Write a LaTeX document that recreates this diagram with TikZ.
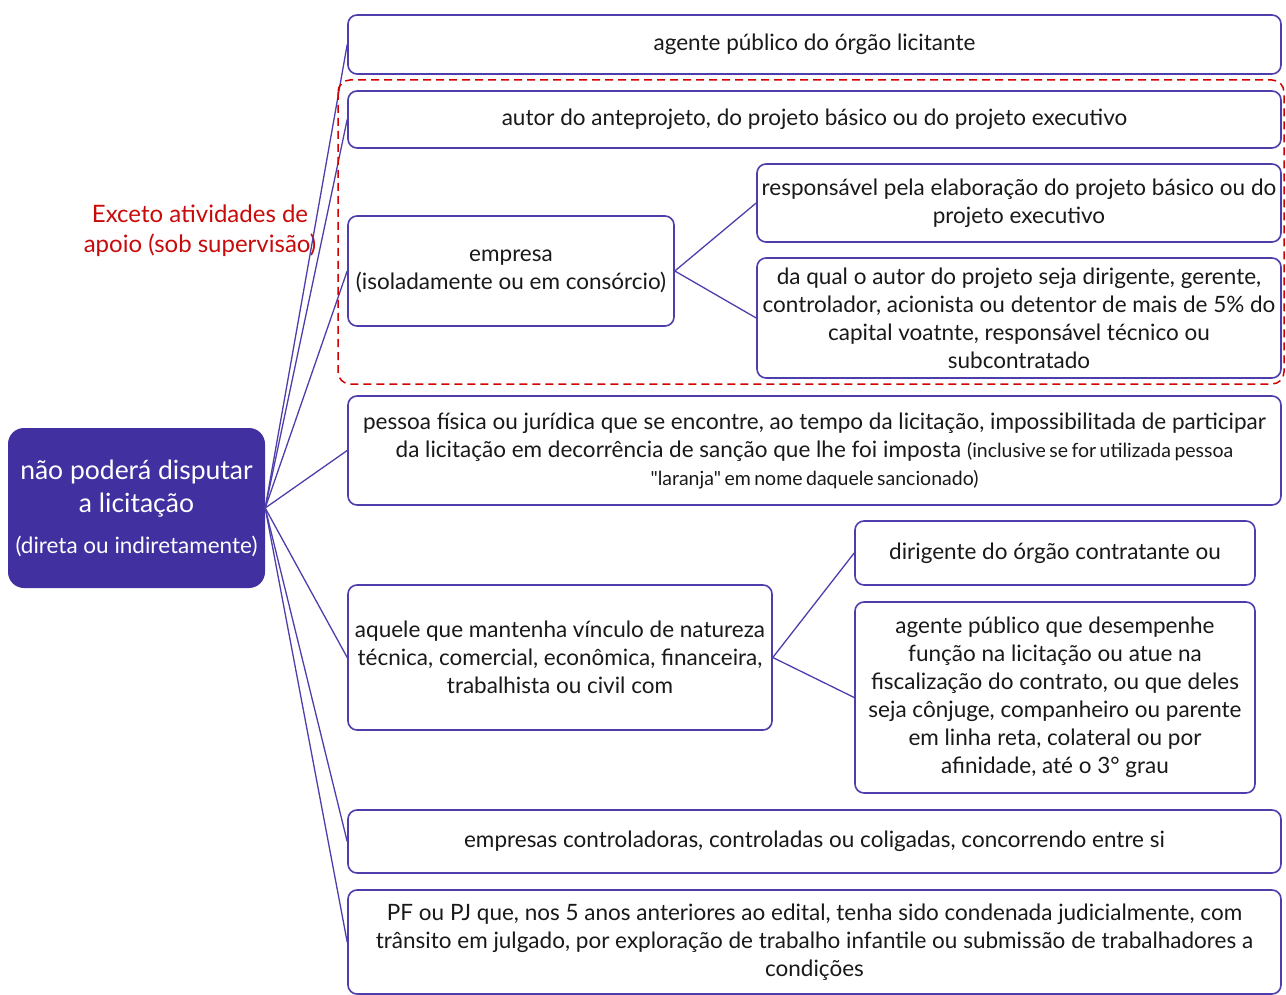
\documentclass[tikz,border=0pt]{standalone}
\usepackage{fontspec}
\setmainfont{Lato}
\newfontfamily\smallfam[WordSpace=0.7]{Lato}
\definecolor{boxcol}{RGB}{78,62,172}
\definecolor{rootcol}{RGB}{64,48,160}
\definecolor{redtxt}{RGB}{200,10,10}
\definecolor{reddash}{RGB}{210,0,0}
\definecolor{txtcol}{RGB}{25,25,25}
\begin{document}
\begin{tikzpicture}[x=1pt,y=-1pt,
  box/.style={draw=boxcol, line width=1.6pt, rounded corners=9pt, fill=white, align=center, inner sep=1pt, text=txtcol, font=\fontsize{22.5}{28}\selectfont},
  link/.style={draw=boxcol, line width=1.3pt},
  rootbox/.style={fill=rootcol, rounded corners=16pt, text=white, align=center, inner sep=0pt, font=\fontsize{26.5}{33}\selectfont},
  dashbox/.style={draw=reddash, line width=1.5pt, dash pattern=on 8pt off 5pt, rounded corners=12pt},
  note/.style={text=redtxt, align=center, font=\fontsize{24}{30}\selectfont}
]
\useasboundingbox (0,0) rectangle (1286,995);

% nodes
\node[rootbox, minimum width=257, minimum height=160] (r) at (136.5,508)
  {não poderá disputar\\a licitação\\[8pt]{\fontsize{22.5}{28}\selectfont (direta ou indiretamente)}};

\node[box, minimum width=933, minimum height=59] (a1) at (814.5,44.5) {agente público do órgão licitante};
\node[box, minimum width=933, minimum height=57] (a2) at (814.5,119.5) {autor do anteprojeto, do projeto básico ou do projeto executivo};
\node[box, minimum width=326, minimum height=110] (emp) at (511,271) {empresa\\(isoladamente ou em consórcio)};
\node[box, minimum width=524, minimum height=78] (resp) at (1019,203) {responsável pela elaboração do projeto básico ou do\\projeto executivo};
\node[box, minimum width=524, minimum height=120] (daq) at (1019,318) {da qual o autor do projeto seja dirigente, gerente,\\controlador, acionista ou detentor de mais de 5\% do\\capital voatnte, responsável técnico ou\\subcontratado};
\node[box, minimum width=933, minimum height=109] (pes) at (814.5,450.5)
  {pessoa física ou jurídica que se encontre, ao tempo da licitação, impossibilitada de participar\\da licitação em decorrência de sanção que lhe foi imposta {\smallfam\fontsize{19.5}{27}\selectfont (inclusive se for utilizada pessoa}\\\smallfam\fontsize{19.5}{27}\selectfont "laranja" em nome daquele sancionado)};
\node[box, minimum width=424, minimum height=145] (aq) at (560,657.5) {aquele que mantenha vínculo de natureza\\técnica, comercial, econômica, financeira,\\trabalhista ou civil com};
\node[box, minimum width=400, minimum height=64] (dir) at (1055,553) {dirigente do órgão contratante ou};
\node[box, minimum width=400, minimum height=191] (ag) at (1055,697.5) {agente público que desempenhe\\função na licitação ou atue na\\fiscalização do contrato, ou que deles\\seja cônjuge, companheiro ou parente\\em linha reta, colateral ou por\\afinidade, até o 3° grau};
\node[box, minimum width=933, minimum height=63] (ec) at (814.5,841.5) {empresas controladoras, controladas ou coligadas, concorrendo entre si};
\node[box, minimum width=933, minimum height=104] (pf) at (814.5,942) {PF ou PJ que, nos 5 anos anteriores ao edital, tenha sido condenada judicialmente, com\\trânsito em julgado, por exploração de trabalho infantile ou submissão de trabalhadores a\\condições};

\node[note] (nt) at (200,231) {Exceto atividades de\\apoio (sob supervisão)};

% connectors
\foreach \t in {a1,a2,emp,pes,aq,ec,pf}{
  \draw[link] (r.east) -- (\t.west);
}
\draw[link] (emp.east) -- (resp.west);
\draw[link] (emp.east) -- (daq.west);
\draw[link] (aq.east) -- (dir.west);
\draw[link] (aq.east) -- (ag.west);

\draw[dashbox] (338,80) rectangle (1284,384);
\end{tikzpicture}
\end{document}
